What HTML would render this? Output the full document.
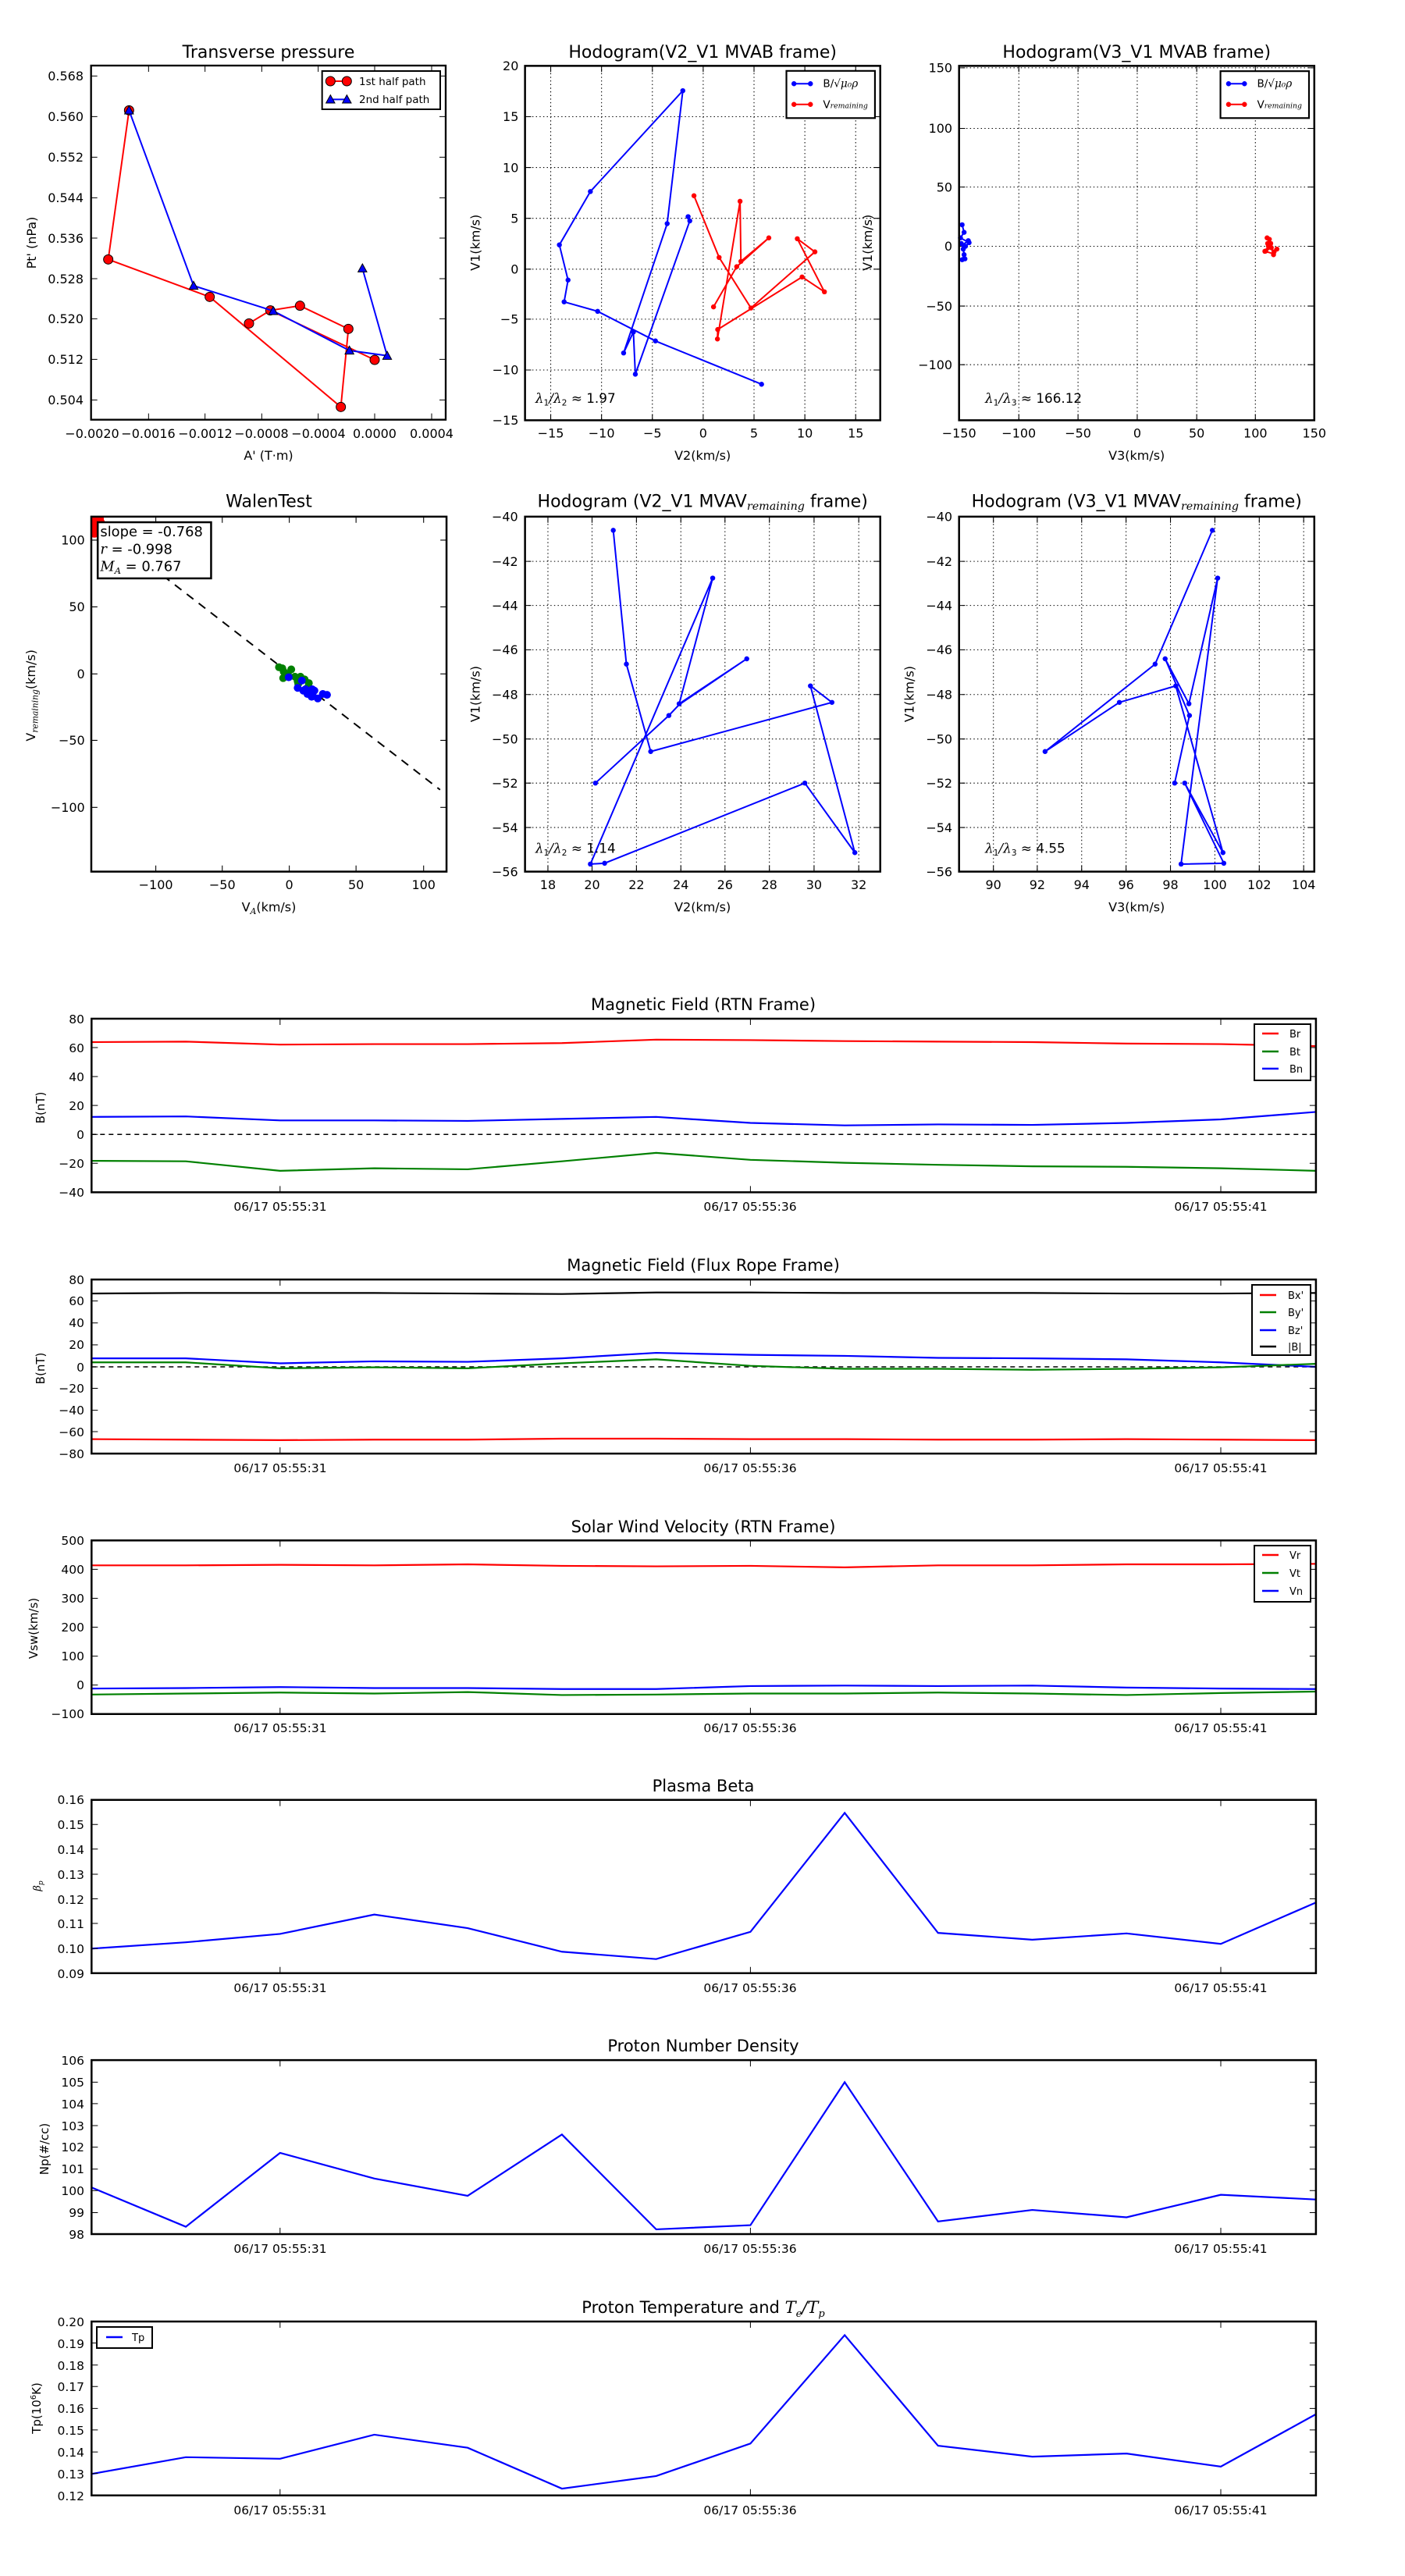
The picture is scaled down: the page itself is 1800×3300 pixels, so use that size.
<!DOCTYPE html>
<html><head><meta charset="utf-8"><style>
html,body{margin:0;padding:0;background:#fff}
svg{display:block}
text{font-family:"DejaVu Sans","Liberation Sans",sans-serif;fill:#000}
.m{font-family:"DejaVu Serif","Liberation Serif",serif;font-style:italic}
</style></head><body>
<svg width="1800" height="3300" viewBox="0 0 1800 3300" xmlns="http://www.w3.org/2000/svg">
<rect width="1800" height="3300" fill="#fff"/>
<defs>
<clipPath id="c4"><rect x="271" y="117" width="1272" height="1271"/></clipPath>
</defs>

<!-- ============ Panel 1: Transverse pressure ============ -->
<text x="344" y="74" font-size="22" text-anchor="middle">Transverse pressure</text>
<g transform="translate(110,80) scale(0.33333)">
<rect x="20" y="12" width="1363" height="1361" fill="none" stroke="#000" stroke-width="7"/>
<path d="M241 1373v-24M458 1373v-24M676 1373v-24M893 1373v-24M1110 1373v-24M1329 1373v-24M241 12v24M458 12v24M676 12v24M893 12v24M1110 12v24M1329 12v24
M20 52h24M20 208h24M20 364h24M20 520h24M20 675h24M20 831h24M20 985h24M20 1141h24M20 1297h24M1383 52h-24M1383 208h-24M1383 364h-24M1383 520h-24M1383 675h-24M1383 831h-24M1383 985h-24M1383 1141h-24M1383 1297h-24" stroke="#000" stroke-width="3" fill="none"/>
<polyline points="166,184 86,757 476,901 980,1324 1009,1024 823,935 709,953 627,1003 709,953 1110,1143" fill="none" stroke="#f00" stroke-width="6"/>
<g fill="#f00" stroke="#000" stroke-width="3">
<circle cx="166" cy="184" r="18"/><circle cx="86" cy="757" r="18"/><circle cx="476" cy="901" r="18"/><circle cx="980" cy="1324" r="18"/><circle cx="1009" cy="1024" r="18"/><circle cx="823" cy="935" r="18"/><circle cx="709" cy="953" r="18"/><circle cx="627" cy="1003" r="18"/><circle cx="1110" cy="1143" r="18"/>
</g>
<polyline points="1063,792 1158,1127 1013,1107 720,955 414,858 166,184" fill="none" stroke="#00f" stroke-width="6"/>
<g fill="#00f" stroke="#000" stroke-width="3">
<path d="M1063,774 l17,31 h-34z"/><path d="M1158,1110 l17,31 h-34z"/><path d="M1013,1090 l17,31 h-34z"/><path d="M720,938 l17,31 h-34z"/><path d="M414,841 l17,31 h-34z"/><path d="M166,167 l17,31 h-34z"/>
</g>
<rect x="908" y="33" width="454" height="147" fill="#fff" stroke="#000" stroke-width="6"/>
<line x1="940" y1="72" x2="1003" y2="72" stroke="#f00" stroke-width="6"/>
<circle cx="940" cy="72" r="18" fill="#f00" stroke="#000" stroke-width="3"/><circle cx="1003" cy="72" r="18" fill="#f00" stroke="#000" stroke-width="3"/>
<line x1="940" y1="142" x2="1003" y2="142" stroke="#00f" stroke-width="6"/>
<path d="M940,125 l17,31 h-34z" fill="#00f" stroke="#000" stroke-width="3"/><path d="M1003,125 l17,31 h-34z" fill="#00f" stroke="#000" stroke-width="3"/>
</g>
<text x="460" y="109" font-size="13.5">1st half path</text>
<text x="460" y="132" font-size="13.5">2nd half path</text>
<g font-size="16" text-anchor="end">
<text x="107" y="103">0.568</text><text x="107" y="155">0.560</text><text x="107" y="207">0.552</text><text x="107" y="259">0.544</text><text x="107" y="311">0.536</text><text x="107" y="363">0.528</text><text x="107" y="414">0.520</text><text x="107" y="466">0.512</text><text x="107" y="518">0.504</text>
</g>
<g font-size="16" text-anchor="middle">
<text x="118" y="561">−0.0020</text><text x="190" y="561">−0.0016</text><text x="263" y="561">−0.0012</text><text x="335" y="561">−0.0008</text><text x="408" y="561">−0.0004</text><text x="480" y="561">0.0000</text><text x="553" y="561">0.0004</text>
<text x="344" y="589">A' (T·m)</text>
</g>
<text transform="translate(46,311) rotate(-90)" font-size="16" text-anchor="middle">Pt' (nPa)</text>

<!-- ============ Panel 2: Hodogram V2_V1 MVAB ============ -->
<g transform="translate(600,40) scale(0.35778)">
<text x="839" y="95" font-size="61.5" text-anchor="middle">Hodogram(V2_V1 MVAB frame)</text>
<path d="M295 124V1393M477 124V1393M659 124V1393M841 124V1393M1023 124V1393M1205 124V1393M1387 124V1393M203 306H1475M203 488H1475M203 670H1475M203 852H1475M203 1031H1475M203 1213H1475" stroke="#000" stroke-width="3" stroke-dasharray="4 9" fill="none"/>
<path d="M295 1393v-22M477 1393v-22M659 1393v-22M841 1393v-22M1023 1393v-22M1205 1393v-22M1387 1393v-22M295 124v22M477 124v22M659 124v22M841 124v22M1023 124v22M1205 124v22M1387 124v22M203 306h22M203 488h22M203 670h22M203 852h22M203 1031h22M203 1213h22M1475 306h-22M1475 488h-22M1475 670h-22M1475 852h-22M1475 1031h-22M1475 1213h-22" stroke="#000" stroke-width="3"/>
<polyline points="787,664 793,679 598,1228 591,1077 556,1152 712,689 768,213 437,574 326,765 357,891 343,969 463,1003 670,1109 1050,1264" fill="none" stroke="#00f" stroke-width="5.6"/>
<g fill="#00f"><circle cx="787" cy="664" r="9"/><circle cx="793" cy="679" r="9"/><circle cx="598" cy="1228" r="9"/><circle cx="591" cy="1077" r="9"/><circle cx="556" cy="1152" r="9"/><circle cx="712" cy="689" r="9"/><circle cx="768" cy="213" r="9"/><circle cx="437" cy="574" r="9"/><circle cx="326" cy="765" r="9"/><circle cx="357" cy="891" r="9"/><circle cx="343" cy="969" r="9"/><circle cx="463" cy="1003" r="9"/><circle cx="670" cy="1109" r="9"/><circle cx="1050" cy="1264" r="9"/></g>
<polyline points="808,589 898,810 1012,991 1241,790 1178,743 1275,933 1195,880 893,1068 892,1102 973,609 976,824 1076,740 961,843 878,987" fill="none" stroke="#f00" stroke-width="5.6"/>
<g fill="#f00"><circle cx="808" cy="589" r="9"/><circle cx="898" cy="810" r="9"/><circle cx="1012" cy="991" r="9"/><circle cx="1241" cy="790" r="9"/><circle cx="1178" cy="743" r="9"/><circle cx="1275" cy="933" r="9"/><circle cx="1195" cy="880" r="9"/><circle cx="893" cy="1068" r="9"/><circle cx="892" cy="1102" r="9"/><circle cx="973" cy="609" r="9"/><circle cx="976" cy="824" r="9"/><circle cx="1076" cy="740" r="9"/><circle cx="961" cy="843" r="9"/><circle cx="878" cy="987" r="9"/></g>
<rect x="203" y="124" width="1272" height="1269" fill="none" stroke="#000" stroke-width="7"/>
<rect x="1139" y="142" width="317" height="169" fill="#fff" stroke="#000" stroke-width="6"/>
<line x1="1166" y1="188" x2="1225" y2="188" stroke="#00f" stroke-width="5.6"/><circle cx="1166" cy="188" r="9" fill="#00f"/><circle cx="1225" cy="188" r="9" fill="#00f"/>
<line x1="1166" y1="262" x2="1225" y2="262" stroke="#f00" stroke-width="5.6"/><circle cx="1166" cy="262" r="9" fill="#f00"/><circle cx="1225" cy="262" r="9" fill="#f00"/>
<text x="1270" y="200" font-size="38">B/√<tspan class="m">μ₀ρ</tspan></text>
<text x="1270" y="275" font-size="38">V<tspan class="m" font-size="26">remaining</tspan></text>
<g font-size="44.7" text-anchor="end"><text x="180" y="140">20</text><text x="180" y="322">15</text><text x="180" y="504">10</text><text x="180" y="686">5</text><text x="180" y="868">0</text><text x="180" y="1047">−5</text><text x="180" y="1229">−10</text><text x="180" y="1409">−15</text></g>
<g font-size="44.7" text-anchor="middle"><text x="295" y="1455">−15</text><text x="477" y="1455">−10</text><text x="659" y="1455">−5</text><text x="841" y="1455">0</text><text x="1023" y="1455">5</text><text x="1205" y="1455">10</text><text x="1387" y="1455">15</text>
<text x="839" y="1535">V2(km/s)</text></g>
<text transform="translate(40,757) rotate(-90)" font-size="44.7" text-anchor="middle">V1(km/s)</text>
<text x="240" y="1330" font-size="47"><tspan class="m">λ</tspan><tspan font-size="30" dy="10">1</tspan><tspan class="m" dy="-10">/λ</tspan><tspan font-size="30" dy="10">2</tspan><tspan dy="-10"> ≈ 1.97</tspan></text>
</g>

<!-- ============ Panel 3: Hodogram V3_V1 MVAB ============ -->
<g transform="translate(1160,40) scale(0.35778)">
<text x="828" y="95" font-size="61.5" text-anchor="middle">Hodogram(V3_V1 MVAB frame)</text>
<path d="M406 124V1393M618 124V1393M830 124V1393M1043 124V1393M1253 124V1393M192 131H1464M192 348H1464M192 558H1464M192 770H1464M192 984H1464M192 1194H1464" stroke="#000" stroke-width="3" stroke-dasharray="4 9" fill="none"/>
<path d="M406 1393v-22M618 1393v-22M830 1393v-22M1043 1393v-22M1253 1393v-22M406 124v22M618 124v22M830 124v22M1043 124v22M1253 124v22M192 131h22M192 348h22M192 558h22M192 770h22M192 984h22M192 1194h22M1464 131h-22M1464 348h-22M1464 558h-22M1464 770h-22M1464 984h-22M1464 1194h-22" stroke="#000" stroke-width="3"/>
<polyline points="203,693 210,720 197,740 228,757 215,770 200,760 207,780 210,800 203,818 213,815 205,765 225,750" fill="none" stroke="#00f" stroke-width="5.6"/>
<g fill="#00f"><circle cx="203" cy="693" r="9"/><circle cx="210" cy="720" r="9"/><circle cx="197" cy="740" r="9"/><circle cx="228" cy="757" r="9"/><circle cx="215" cy="770" r="9"/><circle cx="200" cy="760" r="9"/><circle cx="207" cy="780" r="9"/><circle cx="210" cy="800" r="9"/><circle cx="203" cy="818" r="9"/><circle cx="213" cy="815" r="9"/><circle cx="225" cy="750" r="9"/></g>
<polyline points="1295,740 1303,745 1297,760 1308,760 1290,787 1310,775 1318,800 1330,780 1320,790 1300,770 1287,788 1312,795" fill="none" stroke="#f00" stroke-width="5.6"/>
<g fill="#f00"><circle cx="1295" cy="740" r="9"/><circle cx="1303" cy="745" r="9"/><circle cx="1297" cy="760" r="9"/><circle cx="1308" cy="760" r="9"/><circle cx="1290" cy="787" r="9"/><circle cx="1310" cy="775" r="9"/><circle cx="1318" cy="800" r="9"/><circle cx="1330" cy="780" r="9"/><circle cx="1320" cy="790" r="9"/><circle cx="1300" cy="770" r="9"/><circle cx="1287" cy="788" r="9"/></g>
<rect x="192" y="124" width="1272" height="1269" fill="none" stroke="#000" stroke-width="7"/>
<rect x="1128" y="143" width="317" height="168" fill="#fff" stroke="#000" stroke-width="6"/>
<line x1="1157" y1="188" x2="1214" y2="188" stroke="#00f" stroke-width="5.6"/><circle cx="1157" cy="188" r="9" fill="#00f"/><circle cx="1214" cy="188" r="9" fill="#00f"/>
<line x1="1157" y1="262" x2="1214" y2="262" stroke="#f00" stroke-width="5.6"/><circle cx="1157" cy="262" r="9" fill="#f00"/><circle cx="1214" cy="262" r="9" fill="#f00"/>
<text x="1259" y="200" font-size="38">B/√<tspan class="m">μ₀ρ</tspan></text>
<text x="1259" y="275" font-size="38">V<tspan class="m" font-size="26">remaining</tspan></text>
<g font-size="44.7" text-anchor="end"><text x="168" y="147">150</text><text x="168" y="364">100</text><text x="168" y="574">50</text><text x="168" y="786">0</text><text x="168" y="1000">−50</text><text x="168" y="1210">−100</text></g>
<g font-size="44.7" text-anchor="middle"><text x="192" y="1455">−150</text><text x="406" y="1455">−100</text><text x="618" y="1455">−50</text><text x="830" y="1455">0</text><text x="1043" y="1455">50</text><text x="1253" y="1455">100</text><text x="1464" y="1455">150</text>
<text x="828" y="1535">V3(km/s)</text></g>
<text transform="translate(-120,757) rotate(-90)" font-size="44.7" text-anchor="middle">V1(km/s)</text>
<text x="285" y="1330" font-size="47"><tspan class="m">λ</tspan><tspan font-size="30" dy="10">1</tspan><tspan class="m" dy="-10">/λ</tspan><tspan font-size="30" dy="10">3</tspan><tspan dy="-10"> ≈ 166.12</tspan></text>
</g>

<!-- ============ Panel 4: WalenTest ============ -->
<g transform="translate(20,620) scale(0.35778)">
<text x="907" y="82" font-size="61.5" text-anchor="middle">WalenTest</text>
<path d="M502 1388v-22M740 1388v-22M980 1388v-22M1219 1388v-22M1461 1388v-22M502 117v22M740 117v22M980 117v22M1219 117v22M1461 117v22M271 201h22M271 440h22M271 680h22M271 918h22M271 1158h22M1543 201h-22M1543 440h-22M1543 680h-22M1543 918h-22M1543 1158h-22" stroke="#000" stroke-width="3"/>
<line x1="271" y1="130" x2="1520" y2="1095" stroke="#000" stroke-width="5.6" stroke-dasharray="30 24"/>
<g clip-path="url(#c4)">
<g fill="#f00"><circle cx="285" cy="130" r="20"/><circle cx="296" cy="125" r="20"/><circle cx="280" cy="160" r="20"/><circle cx="300" cy="140" r="20"/><circle cx="282" cy="172" r="20"/></g>
<g fill="#008000"><circle cx="943" cy="656" r="14"/><circle cx="955" cy="660" r="14"/><circle cx="960" cy="672" r="14"/><circle cx="987" cy="664" r="14"/><circle cx="975" cy="680" r="14"/><circle cx="958" cy="695" r="14"/><circle cx="1000" cy="690" r="14"/><circle cx="1020" cy="690" r="14"/><circle cx="1010" cy="706" r="14"/><circle cx="1035" cy="700" r="14"/><circle cx="1050" cy="713" r="14"/><circle cx="1045" cy="730" r="14"/><circle cx="1012" cy="715" r="14"/></g>
<g fill="#00f"><circle cx="978" cy="692" r="14"/><circle cx="1025" cy="704" r="14"/><circle cx="1010" cy="730" r="14"/><circle cx="1030" cy="740" r="14"/><circle cx="1045" cy="752" r="14"/><circle cx="1062" cy="735" r="14"/><circle cx="1070" cy="740" r="14"/><circle cx="1060" cy="762" r="14"/><circle cx="1082" cy="768" r="14"/><circle cx="1100" cy="752" r="14"/><circle cx="1115" cy="755" r="14"/><circle cx="1038" cy="735" r="14"/><circle cx="1065" cy="760" r="14"/></g>
</g>
<rect x="271" y="117" width="1272" height="1271" fill="none" stroke="#000" stroke-width="7"/>
<rect x="294" y="137" width="406" height="201" fill="#fff" stroke="#000" stroke-width="7"/>
<text x="303" y="187" font-size="50">slope = -0.768</text>
<text x="303" y="250" font-size="50"><tspan class="m">r</tspan> = -0.998</text>
<text x="303" y="312" font-size="50"><tspan class="m">M</tspan><tspan class="m" font-size="32" dy="10">A</tspan><tspan dy="-10"> = 0.767</tspan></text>
<g font-size="44.7" text-anchor="end"><text x="248" y="217">100</text><text x="248" y="456">50</text><text x="248" y="696">0</text><text x="248" y="934">−50</text><text x="248" y="1174">−100</text></g>
<g font-size="44.7" text-anchor="middle"><text x="502" y="1450">−100</text><text x="740" y="1450">−50</text><text x="980" y="1450">0</text><text x="1219" y="1450">50</text><text x="1461" y="1450">100</text>
<text x="907" y="1530">V<tspan class="m" font-size="30" dy="10">A</tspan><tspan dy="-10">(km/s)</tspan></text></g>
<text transform="translate(70,757) rotate(-90)" font-size="44.7" text-anchor="middle">V<tspan class="m" font-size="30" dy="10">remaining</tspan><tspan dy="-10">(km/s)</tspan></text>
</g>

<!-- ============ Panel 5: Hodogram V2_V1 MVAV ============ -->
<g transform="translate(600,620) scale(0.35778)">
<text x="839" y="82" font-size="61.5" text-anchor="middle">Hodogram (V2_V1 MVAV<tspan class="m" font-size="40" dy="10">remaining</tspan><tspan dy="-10"> frame)</tspan></text>
<path d="M285 117V1388M443 117V1388M602 117V1388M761 117V1388M919 117V1388M1078 117V1388M1238 117V1388M1398 117V1388M203 277H1475M203 435H1475M203 594H1475M203 754H1475M203 913H1475M203 1071H1475M203 1230H1475" stroke="#000" stroke-width="3" stroke-dasharray="4 9" fill="none"/>
<path d="M285 1388v-22M443 1388v-22M602 1388v-22M761 1388v-22M919 1388v-22M1078 1388v-22M1238 1388v-22M1398 1388v-22M285 117v22M443 117v22M602 117v22M761 117v22M919 117v22M1078 117v22M1238 117v22M1398 117v22M203 277h22M203 435h22M203 594h22M203 754h22M203 913h22M203 1071h22M203 1230h22M1475 277h-22M1475 435h-22M1475 594h-22M1475 754h-22M1475 913h-22M1475 1071h-22M1475 1230h-22" stroke="#000" stroke-width="3"/>
<polyline points="519,166 566,645 653,958 1302,782 1225,723 1384,1320 1205,1071 488,1358 437,1361 875,337 755,787 997,626 755,790 718,829 455,1071" fill="none" stroke="#00f" stroke-width="5.6"/>
<g fill="#00f"><circle cx="519" cy="166" r="9"/><circle cx="566" cy="645" r="9"/><circle cx="653" cy="958" r="9"/><circle cx="1302" cy="782" r="9"/><circle cx="1225" cy="723" r="9"/><circle cx="1384" cy="1320" r="9"/><circle cx="1205" cy="1071" r="9"/><circle cx="488" cy="1358" r="9"/><circle cx="437" cy="1361" r="9"/><circle cx="875" cy="337" r="9"/><circle cx="755" cy="787" r="9"/><circle cx="997" cy="626" r="9"/><circle cx="718" cy="829" r="9"/><circle cx="455" cy="1071" r="9"/></g>
<rect x="203" y="117" width="1272" height="1271" fill="none" stroke="#000" stroke-width="7"/>
<g font-size="44.7" text-anchor="end"><text x="178" y="133">−40</text><text x="178" y="293">−42</text><text x="178" y="451">−44</text><text x="178" y="610">−46</text><text x="178" y="770">−48</text><text x="178" y="929">−50</text><text x="178" y="1087">−52</text><text x="178" y="1246">−54</text><text x="178" y="1404">−56</text></g>
<g font-size="44.7" text-anchor="middle"><text x="285" y="1450">18</text><text x="443" y="1450">20</text><text x="602" y="1450">22</text><text x="761" y="1450">24</text><text x="919" y="1450">26</text><text x="1078" y="1450">28</text><text x="1238" y="1450">30</text><text x="1398" y="1450">32</text>
<text x="839" y="1530">V2(km/s)</text></g>
<text transform="translate(40,752) rotate(-90)" font-size="44.7" text-anchor="middle">V1(km/s)</text>
<text x="240" y="1320" font-size="47"><tspan class="m">λ</tspan><tspan font-size="30" dy="10">1</tspan><tspan class="m" dy="-10">/λ</tspan><tspan font-size="30" dy="10">2</tspan><tspan dy="-10"> ≈ 1.14</tspan></text>
</g>

<!-- ============ Panel 6: Hodogram V3_V1 MVAV ============ -->
<g transform="translate(1160,620) scale(0.35778)">
<text x="828" y="82" font-size="61.5" text-anchor="middle">Hodogram (V3_V1 MVAV<tspan class="m" font-size="40" dy="10">remaining</tspan><tspan dy="-10"> frame)</tspan></text>
<path d="M315 117V1388M472 117V1388M631 117V1388M790 117V1388M949 117V1388M1108 117V1388M1267 117V1388M1426 117V1388M192 277H1464M192 435H1464M192 594H1464M192 754H1464M192 913H1464M192 1071H1464M192 1230H1464" stroke="#000" stroke-width="3" stroke-dasharray="4 9" fill="none"/>
<path d="M315 1388v-22M472 1388v-22M631 1388v-22M790 1388v-22M949 1388v-22M1108 1388v-22M1267 1388v-22M1426 1388v-22M315 117v22M472 117v22M631 117v22M790 117v22M949 117v22M1108 117v22M1267 117v22M1426 117v22M192 277h22M192 435h22M192 594h22M192 754h22M192 913h22M192 1071h22M192 1230h22M1464 277h-22M1464 435h-22M1464 594h-22M1464 754h-22M1464 913h-22M1464 1071h-22M1464 1230h-22" stroke="#000" stroke-width="3"/>
<polyline points="1099,166 894,645 500,958 766,782 968,723 1137,1320 1000,1071 1140,1358 987,1361 1118,337 1015,787 930,626 1017,829 964,1071" fill="none" stroke="#00f" stroke-width="5.6"/>
<g fill="#00f"><circle cx="1099" cy="166" r="9"/><circle cx="894" cy="645" r="9"/><circle cx="500" cy="958" r="9"/><circle cx="766" cy="782" r="9"/><circle cx="968" cy="723" r="9"/><circle cx="1137" cy="1320" r="9"/><circle cx="1000" cy="1071" r="9"/><circle cx="1140" cy="1358" r="9"/><circle cx="987" cy="1361" r="9"/><circle cx="1118" cy="337" r="9"/><circle cx="1015" cy="787" r="9"/><circle cx="930" cy="626" r="9"/><circle cx="1017" cy="829" r="9"/><circle cx="964" cy="1071" r="9"/></g>
<rect x="192" y="117" width="1272" height="1271" fill="none" stroke="#000" stroke-width="7"/>
<g font-size="44.7" text-anchor="end"><text x="168" y="133">−40</text><text x="168" y="293">−42</text><text x="168" y="451">−44</text><text x="168" y="610">−46</text><text x="168" y="770">−48</text><text x="168" y="929">−50</text><text x="168" y="1087">−52</text><text x="168" y="1246">−54</text><text x="168" y="1404">−56</text></g>
<g font-size="44.7" text-anchor="middle"><text x="315" y="1450">90</text><text x="472" y="1450">92</text><text x="631" y="1450">94</text><text x="790" y="1450">96</text><text x="949" y="1450">98</text><text x="1108" y="1450">100</text><text x="1267" y="1450">102</text><text x="1426" y="1450">104</text>
<text x="828" y="1530">V3(km/s)</text></g>
<text transform="translate(30,752) rotate(-90)" font-size="44.7" text-anchor="middle">V1(km/s)</text>
<text x="285" y="1320" font-size="47"><tspan class="m">λ</tspan><tspan font-size="30" dy="10">1</tspan><tspan class="m" dy="-10">/λ</tspan><tspan font-size="30" dy="10">3</tspan><tspan dy="-10"> ≈ 4.55</tspan></text>
</g>

<!-- ============ Time series (upper three) ============ -->
<g transform="matrix(1.15 0 0 0.639 0 1250)" fill="none">
<!-- panel 1 -->
<line x1="102" y1="318" x2="1466" y2="318" stroke="#000" stroke-width="1.5" stroke-dasharray="6 5" vector-effect="non-scaling-stroke"/>
<polyline points="102,133 207,132 312,138 417,137 521,137 626,135 731,128 836,129 941,131 1045,132 1150,133 1255,136 1360,137 1466,141" stroke="#f00" stroke-width="2.2" vector-effect="non-scaling-stroke"/>
<polyline points="102,283 207,282 312,290 417,290 521,291 626,287 731,283 836,295 941,300 1045,298 1150,299 1255,295 1360,288 1466,273" stroke="#00f" stroke-width="2.2" vector-effect="non-scaling-stroke"/>
<polyline points="102,371 207,372 312,391 417,386 521,388 626,372 731,355 836,369 941,375 1045,379 1150,382 1255,383 1360,386 1466,391" stroke="#008000" stroke-width="2.2" vector-effect="non-scaling-stroke"/>
<path d="M102 144h7M102 202h7M102 260h7M102 318h7M102 376h7M1466 144h-7M1466 202h-7M1466 260h-7M1466 318h-7M1466 376h-7M312 434v-12.5M836 434v-12.5M1360 434v-12.5M312 86v12.5M836 86v12.5M1360 86v12.5" stroke="#000" stroke-width="1" vector-effect="non-scaling-stroke"/>
<rect x="102" y="86" width="1364" height="348" stroke="#000" stroke-width="2.5" vector-effect="non-scaling-stroke"/>
<!-- panel 2 -->
<line x1="102" y1="784" x2="1466" y2="784" stroke="#000" stroke-width="1.5" stroke-dasharray="6 5" vector-effect="non-scaling-stroke"/>
<polyline points="102,637 207,636 312,636 417,636 521,637 626,638 731,635 836,635 941,636 1045,636 1150,636 1255,637 1360,637 1466,636" stroke="#000" stroke-width="2.2" vector-effect="non-scaling-stroke"/>
<polyline points="102,767 207,767 312,777 417,773 521,774 626,767 731,756 836,760 941,762 1045,766 1150,767 1255,769 1360,775 1466,784" stroke="#00f" stroke-width="2.2" vector-effect="non-scaling-stroke"/>
<polyline points="102,775 207,775 312,787 417,785 521,787 626,777 731,769 836,782 941,788 1045,788 1150,790 1255,788 1360,785 1466,778" stroke="#008000" stroke-width="2.2" vector-effect="non-scaling-stroke"/>
<polyline points="102,929 207,930 312,931 417,930 521,930 626,928 731,928 836,929 941,929 1045,930 1150,930 1255,929 1360,930 1466,931" stroke="#f00" stroke-width="2.2" vector-effect="non-scaling-stroke"/>
<path d="M102 652h7M102 696h7M102 740h7M102 784h7M102 827h7M102 871h7M102 914h7M1466 652h-7M1466 696h-7M1466 740h-7M1466 784h-7M1466 827h-7M1466 871h-7M1466 914h-7M312 958v-12.5M836 958v-12.5M1360 958v-12.5M312 609v12.5M836 609v12.5M1360 609v12.5" stroke="#000" stroke-width="1" vector-effect="non-scaling-stroke"/>
<rect x="102" y="609" width="1364" height="349" stroke="#000" stroke-width="2.5" vector-effect="non-scaling-stroke"/>
<!-- panel 3 -->
<polyline points="102,1182 207,1182 312,1181 417,1182 521,1180 626,1183 731,1184 836,1183 941,1186 1045,1182 1150,1182 1255,1180 1360,1180 1466,1179" stroke="#f00" stroke-width="2.2" vector-effect="non-scaling-stroke"/>
<polyline points="102,1441 207,1439 312,1437 417,1439 521,1436 626,1442 731,1441 836,1439 941,1439 1045,1437 1150,1439 1255,1442 1360,1438 1466,1435" stroke="#008000" stroke-width="2.2" vector-effect="non-scaling-stroke"/>
<polyline points="102,1429 207,1428 312,1426 417,1428 521,1428 626,1430 731,1430 836,1424 941,1423 1045,1424 1150,1423 1255,1427 1360,1429 1466,1430" stroke="#00f" stroke-width="2.2" vector-effect="non-scaling-stroke"/>
<path d="M102 1190h7M102 1248h7M102 1306h7M102 1364h7M102 1422h7M1466 1190h-7M1466 1248h-7M1466 1306h-7M1466 1364h-7M1466 1422h-7M312 1480v-12.5M836 1480v-12.5M1360 1480v-12.5M312 1132v12.5M836 1132v12.5M1360 1132v12.5" stroke="#000" stroke-width="1" vector-effect="non-scaling-stroke"/>
<rect x="102" y="1132" width="1364" height="348" stroke="#000" stroke-width="2.5" vector-effect="non-scaling-stroke"/>
</g>

<!-- ============ Time series (lower three) ============ -->
<g transform="matrix(1.15 0 0 0.671 0 2250)" fill="none">
<polyline points="102,367 207,355 312,339 417,302 521,328 626,373 731,387 836,335 941,108 1045,337 1150,350 1255,338 1360,358 1466,279" stroke="#00f" stroke-width="2.2" vector-effect="non-scaling-stroke"/>
<path d="M102 130h7M102 177h7M102 225h7M102 272h7M102 319h7M102 367h7M1466 130h-7M1466 177h-7M1466 225h-7M1466 272h-7M1466 319h-7M1466 367h-7M312 414v-12M836 414v-12M1360 414v-12M312 83v12M836 83v12M1360 83v12" stroke="#000" stroke-width="1" vector-effect="non-scaling-stroke"/>
<rect x="102" y="83" width="1364" height="331" stroke="#000" stroke-width="2.5" vector-effect="non-scaling-stroke"/>
<polyline points="102,823 207,898 312,757 417,806 521,839 626,722 731,903 836,895 941,622 1045,888 1150,866 1255,880 1360,837 1466,846" stroke="#00f" stroke-width="2.2" vector-effect="non-scaling-stroke"/>
<path d="M102 622h7M102 663h7M102 705h7M102 746h7M102 788h7M102 829h7M102 871h7M1466 622h-7M1466 663h-7M1466 705h-7M1466 746h-7M1466 788h-7M1466 829h-7M1466 871h-7M312 912v-12M836 912v-12M1360 912v-12M312 580v12M836 580v12M1360 580v12" stroke="#000" stroke-width="1" vector-effect="non-scaling-stroke"/>
<rect x="102" y="580" width="1364" height="332" stroke="#000" stroke-width="2.5" vector-effect="non-scaling-stroke"/>
<polyline points="102,1370 207,1338 312,1341 417,1295 521,1320 626,1398 731,1374 836,1312 941,1105 1045,1316 1150,1337 1255,1331 1360,1356 1466,1256" stroke="#00f" stroke-width="2.2" vector-effect="non-scaling-stroke"/>
<path d="M102 1120h7M102 1162h7M102 1203h7M102 1245h7M102 1286h7M102 1328h7M102 1369h7M1466 1120h-7M1466 1162h-7M1466 1203h-7M1466 1245h-7M1466 1286h-7M1466 1328h-7M1466 1369h-7M312 1411v-12M836 1411v-12M1360 1411v-12M312 1079v12M836 1079v12M1360 1079v12" stroke="#000" stroke-width="1" vector-effect="non-scaling-stroke"/>
<rect x="102" y="1079" width="1364" height="332" stroke="#000" stroke-width="2.5" vector-effect="non-scaling-stroke"/>
</g>

<!-- legends -->
<rect x="1607" y="1312" width="72" height="72" fill="#fff" stroke="#000" stroke-width="2"/>
<line x1="1617" y1="1324" x2="1638" y2="1324" stroke="#f00" stroke-width="2.5"/><text x="1652" y="1329" font-size="13">Br</text>
<line x1="1617" y1="1347" x2="1638" y2="1347" stroke="#008000" stroke-width="2.5"/><text x="1652" y="1352" font-size="13">Bt</text>
<line x1="1617" y1="1369" x2="1638" y2="1369" stroke="#00f" stroke-width="2.5"/><text x="1652" y="1374" font-size="13">Bn</text>

<rect x="1604" y="1646" width="75" height="90" fill="#fff" stroke="#000" stroke-width="2"/>
<line x1="1614" y1="1659" x2="1635" y2="1659" stroke="#f00" stroke-width="2.5"/><text x="1650" y="1664" font-size="13">Bx'</text>
<line x1="1614" y1="1681" x2="1635" y2="1681" stroke="#008000" stroke-width="2.5"/><text x="1650" y="1686" font-size="13">By'</text>
<line x1="1614" y1="1704" x2="1635" y2="1704" stroke="#00f" stroke-width="2.5"/><text x="1650" y="1709" font-size="13">Bz'</text>
<line x1="1614" y1="1725" x2="1635" y2="1725" stroke="#000" stroke-width="2.5"/><text x="1650" y="1730" font-size="13">|B|</text>

<rect x="1607" y="1980" width="72" height="72" fill="#fff" stroke="#000" stroke-width="2"/>
<line x1="1617" y1="1992" x2="1638" y2="1992" stroke="#f00" stroke-width="2.5"/><text x="1652" y="1997" font-size="13">Vr</text>
<line x1="1617" y1="2015" x2="1638" y2="2015" stroke="#008000" stroke-width="2.5"/><text x="1652" y="2020" font-size="13">Vt</text>
<line x1="1617" y1="2038" x2="1638" y2="2038" stroke="#00f" stroke-width="2.5"/><text x="1652" y="2043" font-size="13">Vn</text>

<rect x="124" y="2981" width="71" height="27" fill="#fff" stroke="#000" stroke-width="2"/>
<line x1="136" y1="2994" x2="157" y2="2994" stroke="#00f" stroke-width="2.5"/><text x="169" y="2999" font-size="13">Tp</text>

<!-- time-series titles -->
<g font-size="21" text-anchor="middle">
<text x="901" y="1294">Magnetic Field (RTN Frame)</text>
<text x="901" y="1628">Magnetic Field (Flux Rope Frame)</text>
<text x="901" y="1963">Solar Wind Velocity (RTN Frame)</text>
<text x="901" y="2295">Plasma Beta</text>
<text x="901" y="2628">Proton Number Density</text>
<text x="901" y="2963">Proton Temperature and <tspan class="m">T</tspan><tspan class="m" font-size="13" dy="5">e</tspan><tspan class="m" dy="-5">/T</tspan><tspan class="m" font-size="13" dy="5">p</tspan></text>
</g>
<!-- x tick labels -->
<g font-size="15.5" text-anchor="middle">
<text x="359" y="1551">06/17 05:55:31</text><text x="961" y="1551">06/17 05:55:36</text><text x="1564" y="1551">06/17 05:55:41</text>
<text x="359" y="1886">06/17 05:55:31</text><text x="961" y="1886">06/17 05:55:36</text><text x="1564" y="1886">06/17 05:55:41</text>
<text x="359" y="2219">06/17 05:55:31</text><text x="961" y="2219">06/17 05:55:36</text><text x="1564" y="2219">06/17 05:55:41</text>
<text x="359" y="2552">06/17 05:55:31</text><text x="961" y="2552">06/17 05:55:36</text><text x="1564" y="2552">06/17 05:55:41</text>
<text x="359" y="2886">06/17 05:55:31</text><text x="961" y="2886">06/17 05:55:36</text><text x="1564" y="2886">06/17 05:55:41</text>
<text x="359" y="3221">06/17 05:55:31</text><text x="961" y="3221">06/17 05:55:36</text><text x="1564" y="3221">06/17 05:55:41</text>
</g>
<!-- y tick labels -->
<g font-size="15.5" text-anchor="end">
<text x="108" y="1311">80</text><text x="108" y="1348">60</text><text x="108" y="1385">40</text><text x="108" y="1422">20</text><text x="108" y="1459">0</text><text x="108" y="1496">−20</text><text x="108" y="1533">−40</text>
<text x="108" y="1645">80</text><text x="108" y="1672">60</text><text x="108" y="1700">40</text><text x="108" y="1728">20</text><text x="108" y="1757">0</text><text x="108" y="1784">−20</text><text x="108" y="1812">−40</text><text x="108" y="1840">−60</text><text x="108" y="1868">−80</text>
<text x="108" y="1979">500</text><text x="108" y="2016">400</text><text x="108" y="2053">300</text><text x="108" y="2090">200</text><text x="108" y="2127">100</text><text x="108" y="2164">0</text><text x="108" y="2201">−100</text>
<text x="108" y="2311">0.16</text><text x="108" y="2343">0.15</text><text x="108" y="2375">0.14</text><text x="108" y="2407">0.13</text><text x="108" y="2439">0.12</text><text x="108" y="2470">0.11</text><text x="108" y="2502">0.10</text><text x="108" y="2534">0.09</text>
<text x="108" y="2645">106</text><text x="108" y="2673">105</text><text x="108" y="2701">104</text><text x="108" y="2729">103</text><text x="108" y="2756">102</text><text x="108" y="2784">101</text><text x="108" y="2812">100</text><text x="108" y="2840">99</text><text x="108" y="2868">98</text>
<text x="108" y="2980">0.20</text><text x="108" y="3008">0.19</text><text x="108" y="3036">0.18</text><text x="108" y="3063">0.17</text><text x="108" y="3091">0.16</text><text x="108" y="3119">0.15</text><text x="108" y="3147">0.14</text><text x="108" y="3175">0.13</text><text x="108" y="3203">0.12</text>
</g>
<!-- y axis labels -->
<g font-size="15" text-anchor="middle">
<text transform="translate(57,1419) rotate(-90)">B(nT)</text>
<text transform="translate(57,1753) rotate(-90)">B(nT)</text>
<text transform="translate(48,2086) rotate(-90)">Vsw(km/s)</text>
<text transform="translate(52,2416) rotate(-90)" class="m" font-size="13">β<tspan font-size="9" dy="3">p</tspan></text>
<text transform="translate(62,2753) rotate(-90)">Np(#/cc)</text>
<text transform="translate(52,3085) rotate(-90)">Tp(10<tspan font-size="10" dy="-6">6</tspan><tspan dy="6">K)</tspan></text>
</g>
</svg>
</body></html>
